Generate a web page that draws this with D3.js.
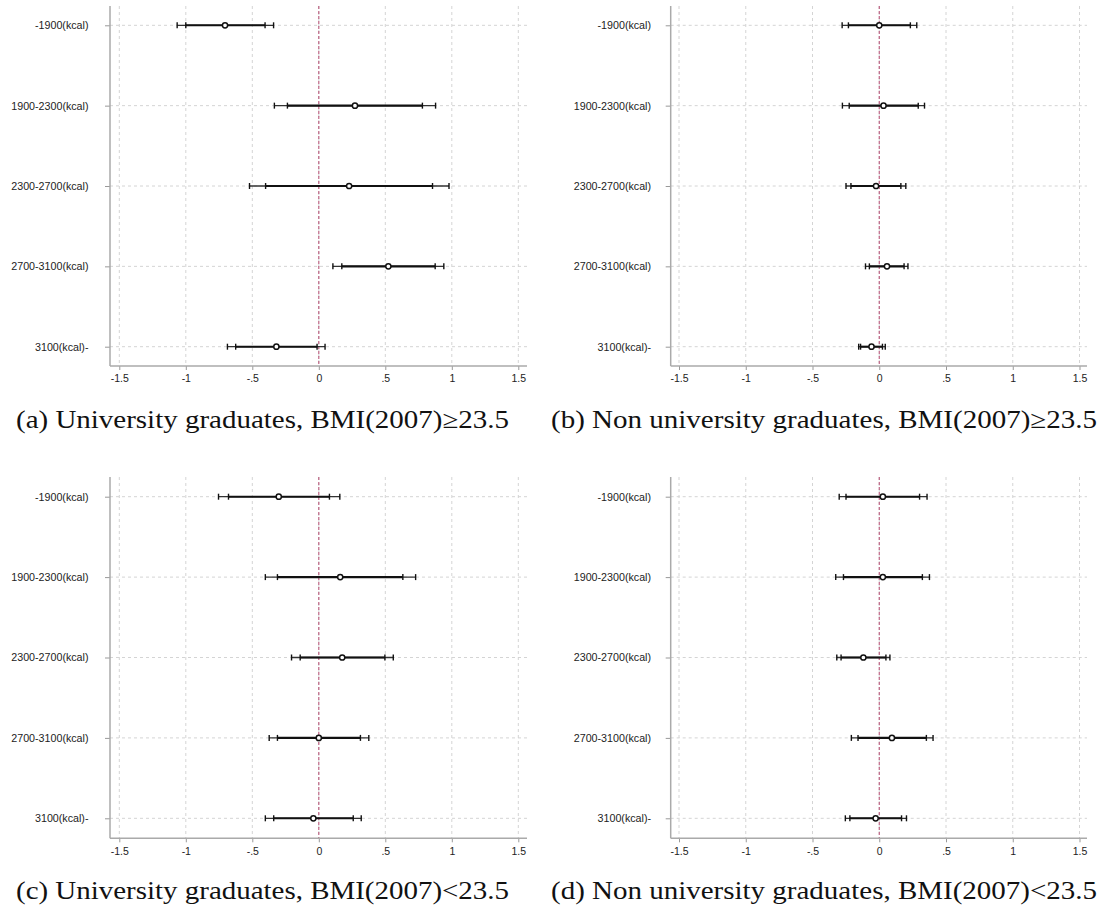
<!DOCTYPE html>
<html>
<head>
<meta charset="utf-8">
<script src="https://cdn.jsdelivr.net/npm/d3@7"></script>
<style>
  body { margin: 0; background: #fff; }
  svg { display: block; }
</style>
</head>
<body>
<div id="chart"></div>
<script>
// Calorie groups (rows, top to bottom) and x ticks
const categories = ["-1900(kcal)", "1900-2300(kcal)", "2300-2700(kcal)", "2700-3100(kcal)", "3100(kcal)-"];
const xTicks = [-1.5, -1, -0.5, 0, 0.5, 1, 1.5];
const xTickLabels = ["-1.5", "-1", "-.5", "0", ".5", "1", "1.5"];
const captions = [
  "(a) University graduates, BMI(2007)\u226523.5",
  "(b) Non university graduates, BMI(2007)\u226523.5",
  "(c) University graduates, BMI(2007)<23.5",
  "(d) Non university graduates, BMI(2007)<23.5"
];

// (a) University graduates, BMI>=23.5
const estA  = [-0.705, 0.272, 0.228, 0.523, -0.319];
const lo95A = [-1.065, -0.334, -0.521, 0.106, -0.687];
const lo90A = [-1.0, -0.236, -0.40, 0.173, -0.625];
const hi90A = [-0.404, 0.779, 0.855, 0.875, -0.013];
const hi95A = [-0.34, 0.878, 0.979, 0.940, 0.047];

// (b) Non university graduates, BMI>=23.5
const estB  = [0.0, 0.032, -0.024, 0.058, -0.058];
const lo95B = [-0.278, -0.276, -0.249, -0.103, -0.154];
const lo90B = [-0.231, -0.225, -0.212, -0.074, -0.140];
const hi90B = [0.233, 0.292, 0.162, 0.186, 0.024];
const hi95B = [0.281, 0.339, 0.199, 0.215, 0.045];

// (c) University graduates, BMI<23.5
const estC  = [-0.301, 0.161, 0.176, 0.0, -0.041];
const lo95C = [-0.754, -0.402, -0.205, -0.373, -0.402];
const lo90C = [-0.679, -0.311, -0.140, -0.311, -0.339];
const hi90C = [0.080, 0.632, 0.497, 0.313, 0.259];
const hi95C = [0.158, 0.728, 0.560, 0.376, 0.319];

// (d) Non university graduates, BMI<23.5
const estD  = [0.027, 0.027, -0.119, 0.095, -0.027];
const lo95D = [-0.300, -0.326, -0.318, -0.209, -0.254];
const lo90D = [-0.249, -0.268, -0.286, -0.159, -0.220];
const hi90D = [0.302, 0.323, 0.050, 0.353, 0.167];
const hi95D = [0.358, 0.376, 0.080, 0.403, 0.204];

const series = [
  [estA, lo95A, lo90A, hi90A, hi95A],
  [estB, lo95B, lo90B, hi90B, hi95B],
  [estC, lo95C, lo90C, hi90C, hi95C],
  [estD, lo95D, lo90D, hi90D, hi95D]
];

// panel layout (pixels)
const layout = [
  {axisX: 110,   x0: 119.3, x1: 518.3,  right: 527,  top: 6,   bottom: 366,   y0: 25.3,  y1: 346.7, capX: 16,  capY: 428, capW: 493},
  {axisX: 670.7, x0: 679,   x1: 1079.5, right: 1087, top: 6,   bottom: 366,   y0: 25.3,  y1: 346.7, capX: 551, capY: 428, capW: 546},
  {axisX: 110,   x0: 119.3, x1: 518.3,  right: 527,  top: 477, bottom: 838.3, y0: 496.7, y1: 818.3, capX: 16,  capY: 899, capW: 493},
  {axisX: 670.7, x0: 679,   x1: 1079.5, right: 1087, top: 477, bottom: 838.3, y0: 496.7, y1: 818.3, capX: 551, capY: 899, capW: 546}
];

const svg = d3.select("#chart").append("svg")
  .attr("width", 1103)
  .attr("height", 911);

layout.forEach((p, i) => {
  const g = svg.append("g");
  const x = d3.scaleLinear().domain([-1.5, 1.5]).range([p.x0, p.x1]);
  const y = d3.scalePoint().domain(categories).range([p.y0, p.y1]);
  const [est, lo95, lo90, hi90, hi95] = series[i];
  const rows = categories.map((c, k) => ({c, est: est[k], lo95: lo95[k], lo90: lo90[k], hi90: hi90[k], hi95: hi95[k]}));

  // grid
  g.selectAll(".vgrid").data(xTicks).enter().append("line")
    .attr("x1", d => x(d)).attr("x2", d => x(d))
    .attr("y1", p.top).attr("y2", p.bottom)
    .attr("stroke", "#d4d4d4").attr("stroke-width", 1)
    .attr("stroke-dasharray", "3,3");
  g.selectAll(".hgrid").data(categories).enter().append("line")
    .attr("x1", p.axisX).attr("x2", p.right)
    .attr("y1", d => y(d)).attr("y2", d => y(d))
    .attr("stroke", "#d4d4d4").attr("stroke-width", 1)
    .attr("stroke-dasharray", "3,3");

  // zero reference line
  g.append("line")
    .attr("x1", x(0)).attr("x2", x(0))
    .attr("y1", p.top).attr("y2", p.bottom)
    .attr("stroke", "#b8577a").attr("stroke-width", 1.1)
    .attr("stroke-dasharray", "3,2");

  // axes
  const xAxis = g.append("g")
    .attr("transform", "translate(0," + p.bottom + ")")
    .call(d3.axisBottom(x).tickValues(xTicks)
      .tickFormat((d, k) => xTickLabels[k]).tickSize(4).tickPadding(5));
  xAxis.select(".domain").remove();
  xAxis.selectAll("line").attr("stroke", "#999");
  xAxis.selectAll("text").attr("font-family", "Liberation Sans, Arial, sans-serif")
    .attr("font-size", "10.5px").attr("fill", "#222");

  const yAxis = g.append("g")
    .attr("transform", "translate(" + p.axisX + ",0)")
    .call(d3.axisLeft(y).tickSize(5).tickPadding(p.axisX - 5 - (i % 2 ? 651 : 88.5) - 0));
  yAxis.select(".domain").remove();
  yAxis.selectAll("line").attr("stroke", "#999");
  yAxis.selectAll("text").attr("font-family", "Liberation Sans, Arial, sans-serif")
    .attr("font-size", "10.7px").attr("fill", "#222");

  g.append("line")
    .attr("x1", p.axisX).attr("x2", p.axisX)
    .attr("y1", p.top).attr("y2", p.bottom)
    .attr("stroke", "#aaa").attr("stroke-width", 1.5);
  g.append("line")
    .attr("x1", p.axisX).attr("x2", p.right)
    .attr("y1", p.bottom).attr("y2", p.bottom)
    .attr("stroke", "#aaa").attr("stroke-width", 1.5);

  // 95% intervals (thin)
  g.selectAll(".ci95").data(rows).enter().append("line")
    .attr("x1", d => x(d.lo95)).attr("x2", d => x(d.hi95))
    .attr("y1", d => y(d.c)).attr("y2", d => y(d.c))
    .attr("stroke", "#333").attr("stroke-width", 1.3);
  // 90% intervals (thick)
  g.selectAll(".ci90").data(rows).enter().append("line")
    .attr("x1", d => x(d.lo90)).attr("x2", d => x(d.hi90))
    .attr("y1", d => y(d.c)).attr("y2", d => y(d.c))
    .attr("stroke", "#111").attr("stroke-width", 2.1);

  // caps
  const caps = [];
  rows.forEach(d => ["lo95", "lo90", "hi90", "hi95"].forEach(key => caps.push({c: d.c, v: d[key]})));
  g.selectAll(".cap").data(caps).enter().append("line")
    .attr("x1", d => x(d.v)).attr("x2", d => x(d.v))
    .attr("y1", d => y(d.c) - 3).attr("y2", d => y(d.c) + 3)
    .attr("stroke", "#111").attr("stroke-width", 1.4);

  // point estimates
  g.selectAll(".pt").data(rows).enter().append("circle")
    .attr("cx", d => x(d.est)).attr("cy", d => y(d.c))
    .attr("r", 2.6)
    .attr("fill", "#fff").attr("stroke", "#111").attr("stroke-width", 1.5);

  // caption
  svg.append("text")
    .attr("x", p.capX).attr("y", p.capY)
    .attr("font-family", "Liberation Serif, 'Times New Roman', serif")
    .attr("font-size", "25px").attr("fill", "#111")
    .attr("textLength", p.capW).attr("lengthAdjust", "spacingAndGlyphs")
    .text(captions[i]);
});
</script>
</body>
</html>
